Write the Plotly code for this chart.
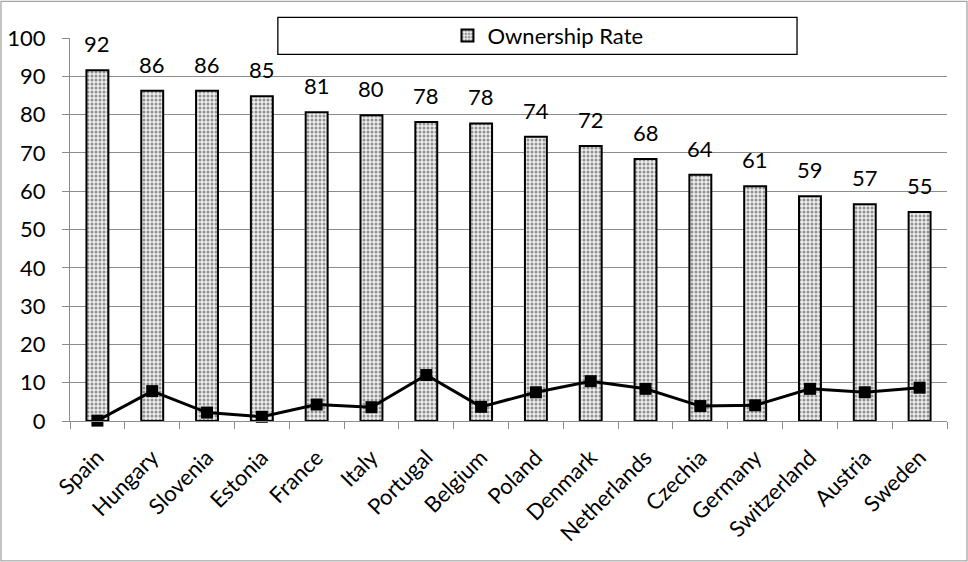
import plotly.graph_objects as go

countries = ["Spain", "Hungary", "Slovenia", "Estonia", "France", "Italy", "Portugal",
             "Belgium", "Poland", "Denmark", "Netherlands", "Czechia", "Germany",
             "Switzerland", "Austria", "Sweden"]
ownership_rate = [91.6, 86.2, 86.2, 84.8, 80.6, 79.8, 78.1, 77.7, 74.2, 71.8,
                  68.4, 64.3, 61.3, 58.7, 56.6, 54.6]
line_values = [0.1, 7.8, 2.2, 1.1, 4.3, 3.6, 12.0, 3.7, 7.5, 10.4,
               8.4, 3.9, 4.1, 8.4, 7.5, 8.7]
y_ticks = [0, 10, 20, 30, 40, 50, 60, 70, 80, 90, 100]

FONT = "Lato"
FS = 22

fig = go.Figure()
fig.add_trace(go.Bar(
    x=countries, y=ownership_rate, name="Ownership Rate", width=0.4,
    marker=dict(color="#eeeeee", line=dict(color="black", width=2),
                pattern=dict(shape=".", fgcolor="#333333", bgcolor="#eeeeee",
                             size=4, solidity=0.45)),
))
fig.add_trace(go.Scatter(
    x=countries, y=line_values, mode="lines+markers", showlegend=False,
    cliponaxis=False,
    line=dict(color="black", width=3),
    marker=dict(symbol="square", size=12, color="black"),
))

for c, v in zip(countries, ownership_rate):
    fig.add_annotation(x=c, y=v, text=f"{v:.0f}", showarrow=False,
                       yanchor="bottom", yshift=11,
                       font=dict(family=FONT, size=FS, color="black"))

# legend frame and outer chart border
fig.add_shape(type="rect", xref="paper", yref="paper",
              x0=0.237, x1=0.829, y0=0.9575, y1=1.054,
              line=dict(color="black", width=1.3), fillcolor="white", layer="above")
fig.add_shape(type="rect", xref="paper", yref="paper",
              x0=-0.0787, x1=1.0228, y0=-0.365, y1=1.0958,
              line=dict(color="#a6a6a6", width=1.3), fillcolor="rgba(0,0,0,0)", layer="below")

fig.update_layout(
    width=968, height=562,
    margin=dict(l=70, r=21, t=38, b=141, autoexpand=False),
    paper_bgcolor="white", plot_bgcolor="white",
    font=dict(family=FONT, size=FS, color="black"),
    showlegend=True,
    legend=dict(x=0.545, y=1.006, xanchor="center", yanchor="middle",
                bgcolor="rgba(0,0,0,0)", borderwidth=0,
                font=dict(family=FONT, size=FS)),
)
fig.update_yaxes(range=[0, 100], tickvals=y_ticks, showgrid=True,
                 gridcolor="#8c8c8c", gridwidth=1, showline=True,
                 linecolor="#8c8c8c", linewidth=1, ticks="outside",
                 ticklen=7, tickcolor="#8c8c8c", zeroline=False,
                 ticklabelstandoff=12, automargin=False,
                 tickfont=dict(family=FONT, size=FS))
fig.update_xaxes(type="category", range=[-0.5, len(countries) - 0.5],
                 tickangle=-45, showgrid=False, showline=True,
                 linecolor="#8c8c8c", linewidth=1, ticks="outside",
                 tickson="boundaries", ticklen=7, tickcolor="#8c8c8c",
                 ticklabelstandoff=14, automargin=False,
                 tickfont=dict(family=FONT, size=FS))

fig.write_html("out.html")
